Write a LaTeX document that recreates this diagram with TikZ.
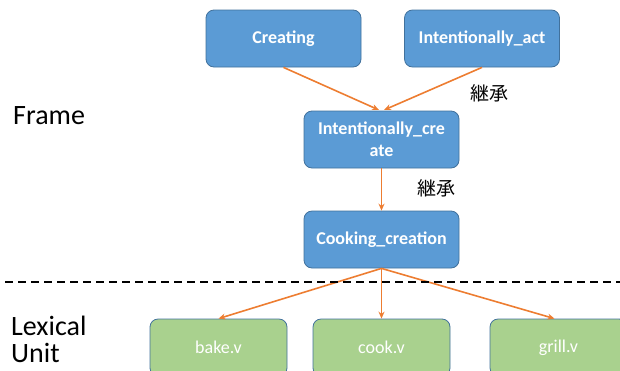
\documentclass[tikz,border=0pt]{standalone}
\usepackage{fontspec}
\setmainfont{Carlito}
\newfontfamily\jpfont{Noto Sans CJK JP}
\usetikzlibrary{arrows.meta}
\definecolor{frameblue}{HTML}{5B9BD5}
\definecolor{frameedge}{HTML}{41719C}
\definecolor{lugreen}{HTML}{A9D18E}
\definecolor{inherit}{HTML}{ED7D31}

\begin{document}
\begin{tikzpicture}[x=1pt,y=-1pt]
    \useasboundingbox (0,0) rectangle (620,370);
    \clip (0,0) rectangle (620,370);

    \tikzset{
      frame/.style={draw=frameedge, fill=frameblue, rounded corners=8pt, line width=0.8pt,
        minimum width=155pt, minimum height=57pt, text=white, font=\fontsize{18}{22}\selectfont\bfseries, align=center},
      lu/.style={draw=frameedge, fill=lugreen, rounded corners=8pt, line width=0.8pt,
        minimum width=137pt, minimum height=57pt, text=white, font=\fontsize{18}{22}\selectfont},
      side/.style={font=\fontsize{28}{27}\selectfont, align=left, anchor=west, inner sep=1pt},
      inh/.style={font=\jpfont\fontsize{19}{22}\selectfont}
    }

    \begin{scope}
    \node[frame] (creating) at (283.5, 38.5) {Creating};
    \node[frame] (act) at (482, 38.5) {Intentionally\_act};
    \node[frame] (create) at (381.5, 139.5) {Intentionally\_cre\\ate};
    \node[frame] (cooking) at (381.5, 239.5) {Cooking\_creation};
    \node[lu] (bake) at (218.5, 347.5) {bake.v};
    \node[lu] (cook) at (381.5, 347.5) {cook.v};
    \node[lu] (grill) at (558.5, 347.5) {grill.v};
    \end{scope}

    % labels on the left
    \node[side] (frametxt) at (12, 116) {Frame};
    \node[side] (lutxt) at (10, 339) {Lexical\\Unit};
    \node[inh] (inh1) at (489, 93) {継承};
    \node[inh] (inh2) at (436, 188) {継承};

  \begin{scope}[draw=inherit, line width=1.6pt, -{Stealth[length=7pt,width=6pt]}]
    \draw (creating.south) -- (379, 110);
    \draw (act.south) -- (384, 110);
    \draw (create) -- (cooking);
    \draw (cooking.south) -- (bake.north);
    \draw (cooking.south) -- (cook.north);
    \draw (cooking.south) -- ([xshift=-4pt]grill.north);
  \end{scope}

  \draw[line width=1.3pt, dash pattern=on 8pt off 5pt] (5, 282) -- (620, 282);

  \end{tikzpicture}
\end{document}
